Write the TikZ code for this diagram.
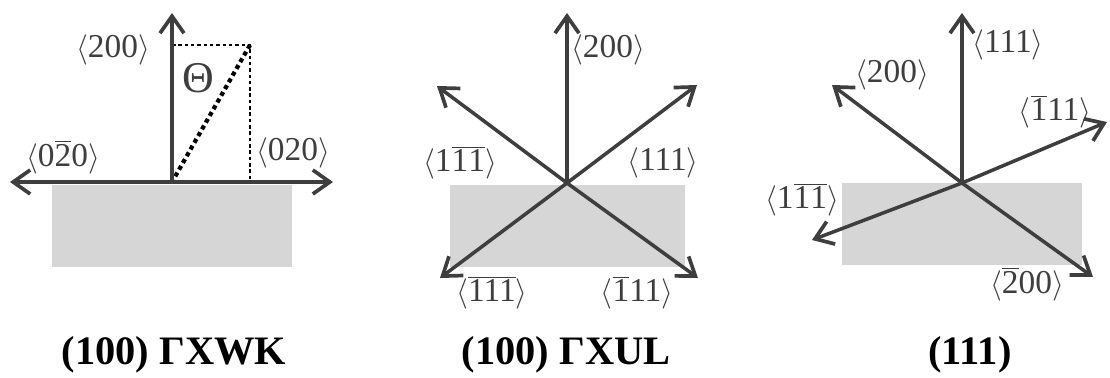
\documentclass[tikz,border=0pt]{standalone}
\usepackage{fontspec}
\setmainfont{Liberation Serif}
\usetikzlibrary{arrows.meta, positioning}
\definecolor{cink}{HTML}{3E3E3E}
\definecolor{csurf}{HTML}{D6D6D6}
\newcommand{\ob}[1]{\ensuremath{\overline{\mbox{#1}}}}
\newcommand{\dir}[1]{$\langle$#1$\rangle$}
\tikzset{
  every picture/.style={x=0.02cm, y=-0.02cm},
  vec/.style={-{Straight Barb[length=3.4mm, width=4.8mm, line width=2.1pt]}, draw=cink, line width=2pt},
  surf/.style={fill=csurf, draw=none},
  guide/.style={draw=black, line width=0.7pt, dash pattern=on 2pt off 1.6pt},
  lbl/.style={font=\fontsize{19}{22}\selectfont, text=cink, inner sep=0pt},
  captext/.style={font=\fontsize{23}{27}\selectfont\bfseries, inner sep=0pt},
}
\begin{document}
\begin{tikzpicture}
  \useasboundingbox (0,0) rectangle (1110,378);
  % (100) GXWK
  \fill[surf] (52,185) rectangle (292,267);
  \coordinate (o1) at (172,182);
  \coordinate (t1n) at (172,13); \coordinate (t1w) at (10,182); \coordinate (t1e) at (333,182);
  \coordinate (c1) at (250,45); \coordinate (f1) at (250,182);
  \draw[guide] (o1 |- c1) -- (c1) -- (f1);
  \draw[black, line width=2.4pt, dotted] (c1) -- (o1);
  \foreach \t in {t1n,t1w,t1e} \draw[vec] (o1) -- (\t);
  \node[lbl] (l1a) at (113,50) {\dir{200}};
  \node[lbl] (l1b) at (63,157) {\dir{0\ob{2}0}};
  \node[lbl] (l1c) at (293,153) {\dir{020}};
  \node[lbl, font=\fontsize{25}{26}\selectfont] (th) at (198,78) {Θ};
  \node[captext] (cap1) at (174,355) {(100) ΓXWK};
  % (100) GXUL
  \fill[surf] (450,185) rectangle (685,267);
  \coordinate (o2) at (567,183);
  \coordinate (t2n) at (567,13); \coordinate (t2nw) at (437,86); \coordinate (t2ne) at (697,85);
  \coordinate (t2sw) at (440,278); \coordinate (t2se) at (698,278);
  \foreach \t in {t2n,t2nw,t2ne,t2sw,t2se} \draw[vec] (o2) -- (\t);
  \node[lbl] (l2a) at (608,50) {\dir{200}};
  \node[lbl] (l2b) at (460,163) {\dir{1\ob{1}\ob{1}}};
  \node[lbl] (l2c) at (663,163) {\dir{111}};
  \node[lbl] (l2d) at (492,293) {\dir{\ob{111}}};
  \node[lbl] (l2e) at (637,293) {\dir{\ob{1}11}};
  \node[captext] (cap2) at (566,355) {(100) ΓXUL};
  % (111)
  \fill[surf] (842,183) rectangle (1082,265);
  \coordinate (o3) at (962,183);
  \coordinate (t3n) at (962,13); \coordinate (t3nw) at (832,85); \coordinate (t3e) at (1107,122);
  \coordinate (t3w) at (812,240); \coordinate (t3se) at (1093,277);
  \foreach \t in {t3n,t3nw,t3e,t3w,t3se} \draw[vec] (o3) -- (\t);
  \node[lbl] (l3a) at (1008,45) {\dir{111}};
  \node[lbl] (l3b) at (892,75) {\dir{200}};
  \node[lbl] (l3c) at (1055,112) {\dir{\ob{1}11}};
  \node[lbl] (l3d) at (802,200) {\dir{1\ob{1}\ob{1}}};
  \node[lbl] (l3e) at (1027,284) {\dir{\ob{2}00}};
  \node[captext] (cap3) at (970,355) {(111)};
\end{tikzpicture}
\end{document}
